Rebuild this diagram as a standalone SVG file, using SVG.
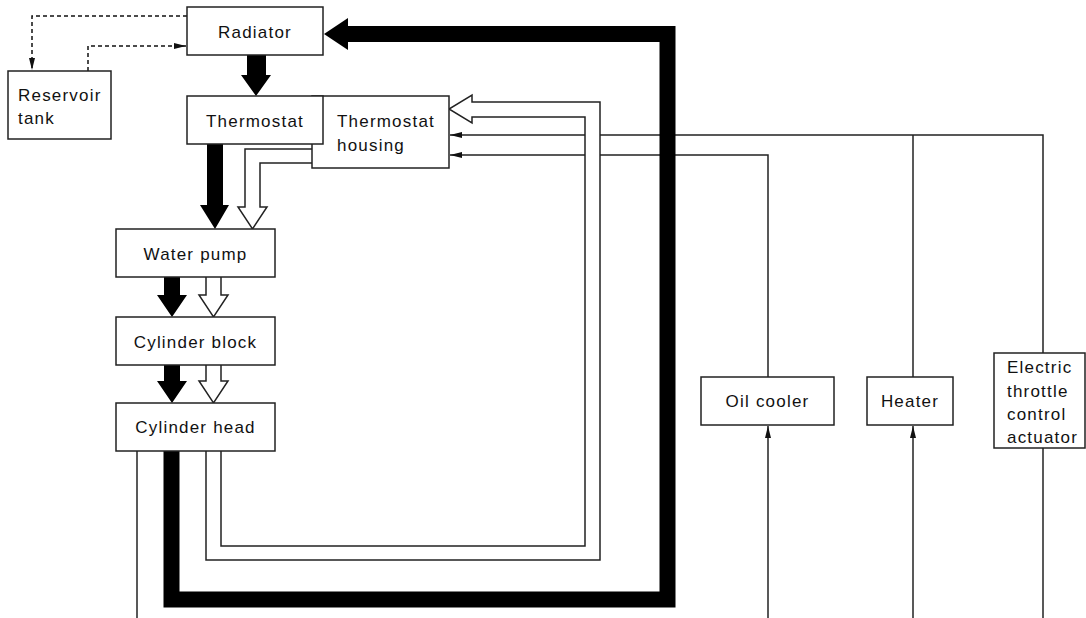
<svg xmlns="http://www.w3.org/2000/svg" width="1086" height="618" viewBox="0 0 1086 618">
<defs>
<style>
.box{fill:#fff;stroke:#222;stroke-width:1.5}
.t{font-family:"Liberation Sans",Arial,sans-serif;font-size:17px;letter-spacing:1.2px;fill:#111}
.c{text-anchor:middle}
.ln{fill:none;stroke:#222;stroke-width:1.5}
.dash{fill:none;stroke:#111;stroke-width:1.5;stroke-dasharray:4 3}
.blk{fill:#000;stroke:none}
.wht{fill:#fff;stroke:#222;stroke-width:1.5;stroke-linejoin:miter}
</style>
<marker id="ah" viewBox="0 0 12 6" refX="12" refY="3" markerWidth="12" markerHeight="6" markerUnits="userSpaceOnUse" orient="auto">
<path d="M0,0 L12,3 L0,6 Z" fill="#111"/>
</marker>
</defs>
<g id="connectors">
<path class="dash" d="M187,16 H32 V70" marker-end="url(#ah)"/>
<path class="dash" d="M88,71 V46 H186" marker-end="url(#ah)"/>
<path class="ln" d="M1043,353 V135 H450" marker-end="url(#ah)"/>
<path class="ln" d="M913,377 V135"/>
<path class="ln" d="M768,377 V155 H450" marker-end="url(#ah)"/>
<path class="ln" d="M768,618 V426" marker-end="url(#ah)"/>
<path class="ln" d="M913,618 V426" marker-end="url(#ah)"/>
<path class="ln" d="M1043,448 V618"/>
<path class="ln" d="M137,451 V618"/>
<path class="wht" d="M206,451 V560 H600 V102 H472 V95 L449,109 L472,123 V117 H585 V546 H221 V451"/>
<path d="M171.5,451 V599.5 H667.5 V34 H346" fill="none" stroke="#000" stroke-width="16"/>
<path class="blk" d="M348,18 L324,34 L348,50 Z"/>
<path class="blk" d="M247,55 H266 V75 H271 L256,96 L241,75 H247 Z"/>
<path class="blk" d="M207,144 H223 V205 H229 L215,229 L200,205 H207 Z"/>
<path class="wht" d="M312,149 H245 V207 H238 L252.5,229 L267,207 H260 V163 H312"/>
<path class="blk" d="M164,277 H180 V295 H187 L172,317 L157,295 H164 Z"/>
<path class="wht" d="M206,277 V295 H199 L213.5,317 L228,295 H221 V277"/>
<path class="blk" d="M164,365 H180 V381 H187 L172,403 L157,381 H164 Z"/>
<path class="wht" d="M206,365 V381 H199 L213.5,403 L228,381 H221 V365"/>
</g>
<g id="radiator">
<rect class="box" x="187" y="7" width="136" height="48"/>
<text class="t c" x="255" y="38">Radiator</text>
</g>
<g id="reservoir-tank">
<rect class="box" x="8" y="71" width="103" height="68"/>
<text class="t" x="18" y="101">Reservoir</text>
<text class="t" x="18" y="124">tank</text>
</g>
<g id="thermostat-housing">
<rect class="box" x="312" y="96" width="137" height="72"/>
<text class="t" x="337" y="127">Thermostat</text>
<text class="t" x="337" y="151">housing</text>
</g>
<g id="thermostat">
<rect class="box" x="187" y="96" width="136" height="48"/>
<text class="t c" x="255" y="127">Thermostat</text>
</g>
<g id="water-pump">
<rect class="box" x="116" y="229" width="159" height="48"/>
<text class="t c" x="195.5" y="260">Water pump</text>
</g>
<g id="cylinder-block">
<rect class="box" x="116" y="317" width="159" height="48"/>
<text class="t c" x="195.5" y="348">Cylinder block</text>
</g>
<g id="cylinder-head">
<rect class="box" x="116" y="403" width="159" height="48"/>
<text class="t c" x="195.5" y="433">Cylinder head</text>
</g>
<g id="oil-cooler">
<rect class="box" x="701" y="377" width="133" height="48"/>
<text class="t c" x="767.5" y="407">Oil cooler</text>
</g>
<g id="heater">
<rect class="box" x="867" y="377" width="86" height="48"/>
<text class="t c" x="910" y="407">Heater</text>
</g>
<g id="electric-throttle-control-actuator">
<rect class="box" x="994" y="353" width="91" height="95"/>
<text class="t" x="1007" y="373">Electric</text>
<text class="t" x="1007" y="397">throttle</text>
<text class="t" x="1007" y="420">control</text>
<text class="t" x="1007" y="443">actuator</text>
</g>
</svg>
